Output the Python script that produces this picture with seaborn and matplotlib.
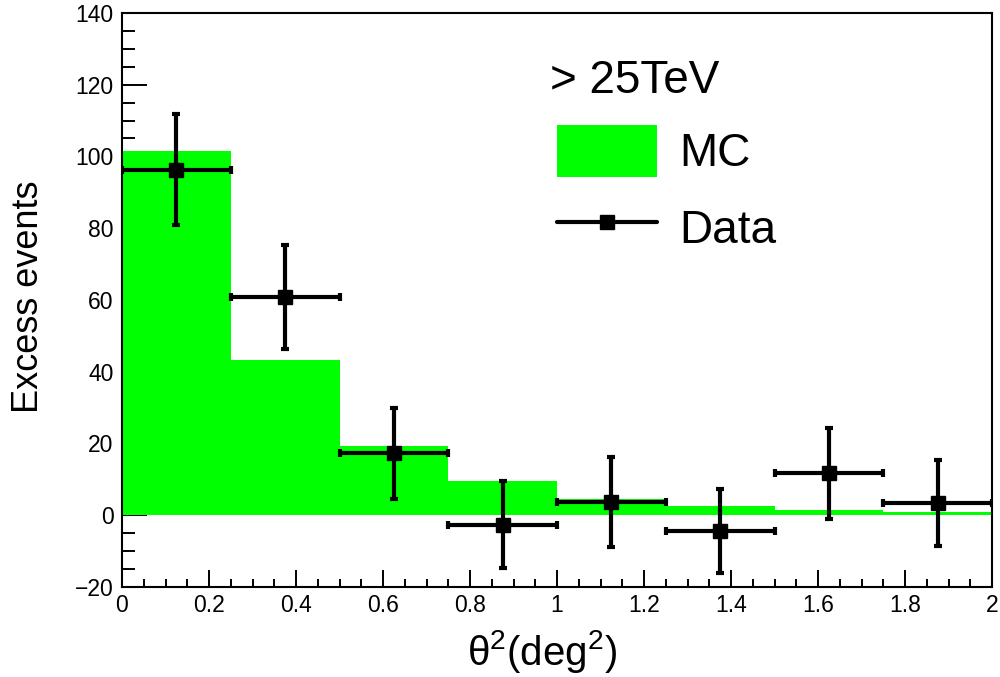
import numpy as np
import matplotlib
matplotlib.use("Agg")
import matplotlib.pyplot as plt
from matplotlib.ticker import MultipleLocator, FixedLocator
from matplotlib.patches import Patch
from matplotlib.lines import Line2D
import seaborn as sns

# ── data ─────────────────────────────────────────────────
bin_edges = [0.0, 0.25, 0.5, 0.75, 1.0, 1.25, 1.5, 1.75, 2.0]
mc_counts = [101.5, 43.3, 19.4, 9.5, 4.6, 2.5, 1.4, 0.9]
data_counts = [96.3, 60.9, 17.2, -2.6, 3.7, -4.4, 11.7, 3.4]
data_errors = [15.5, 14.5, 12.7, 12.0, 12.5, 11.6, 12.7, 12.0]
x_ticks = [0, 0.2, 0.4, 0.6, 0.8, 1.0, 1.2, 1.4, 1.6, 1.8, 2.0]
x_ticklabels = ["0", "0.2", "0.4", "0.6", "0.8", "1", "1.2", "1.4", "1.6", "1.8", "2"]
y_ticks = [-20, 0, 20, 40, 60, 80, 100, 120, 140]

edges = np.array(bin_edges)
centers = (edges[:-1] + edges[1:]) / 2
half_w = np.diff(edges) / 2

sns.set_style("white")
plt.rcParams["font.family"] = ["Liberation Sans", "DejaVu Sans"]
plt.rcParams["mathtext.fontset"] = "custom"
plt.rcParams["mathtext.rm"] = "Liberation Sans"
plt.rcParams["mathtext.it"] = "Liberation Sans:italic"
plt.rcParams["text.color"] = "black"
plt.rcParams["axes.labelcolor"] = "black"

GREEN = "#00ff00"

fig = plt.figure(figsize=(10, 6.77), dpi=100)
ax = fig.add_axes([0.122, 0.133, 0.870, 0.848])

# MC histogram
sns.histplot(x=centers, weights=mc_counts, bins=bin_edges, element="step",
             fill=True, color=GREEN, alpha=1, linewidth=0, ax=ax, zorder=1)

# data points
ax.errorbar(centers, data_counts, xerr=half_w, yerr=data_errors, fmt="s",
            color="black", ms=9.5, elinewidth=3, capsize=3, capthick=3, zorder=3)

ax.set_xlim(0, 2)
ax.set_ylim(-20, 140)
ax.xaxis.set_major_locator(FixedLocator(x_ticks))
ax.set_xticklabels(x_ticklabels)
ax.xaxis.set_minor_locator(MultipleLocator(0.05))
ax.yaxis.set_major_locator(FixedLocator(y_ticks))
ax.yaxis.set_minor_locator(MultipleLocator(5))

ax.tick_params(axis="both", which="both", direction="in", bottom=True, left=True,
               top=False, right=False, color="black", width=1.4,
               labelsize=16.5, labelcolor="black")
ax.tick_params(axis="y", which="major", length=18, pad=6)
ax.tick_params(axis="y", which="minor", length=9)
ax.tick_params(axis="x", which="major", length=12, pad=5)
ax.tick_params(axis="x", which="minor", length=5.5)
for sp in ax.spines.values():
    sp.set_linewidth(1.5)
    sp.set_color("black")
    sp.set_visible(True)

ax.set_xlabel(r"θ$^{2}$(deg$^{2}$)", fontsize=29)
ax.set_ylabel("Excess events", fontsize=26)
ax.xaxis.set_label_coords(0.483, -0.071)
ax.yaxis.set_label_coords(-0.087, 0.505)

# legend
ax.text(0.492, 0.861, "> 25TeV", transform=ax.transAxes, fontsize=33,
        va="baseline", ha="left")
handles = [Patch(facecolor=GREEN, edgecolor="none"),
           Line2D([], [], color="black", lw=3, marker="s", ms=9.5)]
ax.legend(handles, ["MC", "Data"], loc="upper left", bbox_to_anchor=(0.5, 0.805),
          frameon=False, fontsize=33, handlelength=2.18, handleheight=1.36,
          handletextpad=0.48, labelspacing=0.55, borderpad=0, borderaxespad=0)

fig.savefig("out.png", dpi=100)
